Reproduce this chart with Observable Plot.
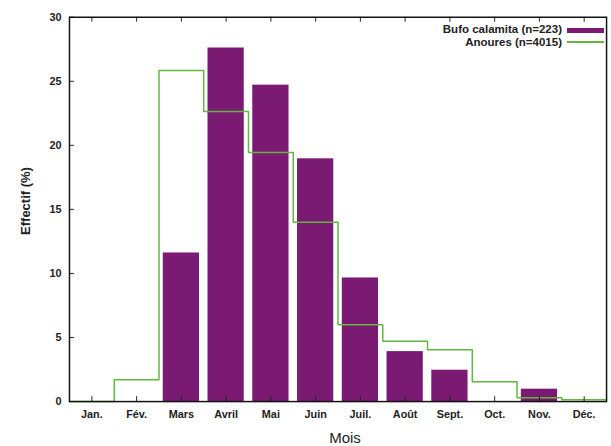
<!DOCTYPE html>
<html><head><meta charset="utf-8">
<script src="https://cdn.jsdelivr.net/npm/d3@7"></script>
<script src="https://cdn.jsdelivr.net/npm/@observablehq/plot@0.6"></script>
<style>
body{margin:0;width:611px;height:446px;overflow:hidden;background:#fff;font-family:"Liberation Sans",Arial,sans-serif;}
#wrap{position:relative;width:611px;height:446px;overflow:hidden;}
#wrap svg{position:absolute;left:0;top:0;}
#wrap svg text{font-weight:bold;}
.lab{position:absolute;color:#222;white-space:nowrap;}
#ylab{left:25px;top:201px;transform:translate(-50%,-50%) rotate(-90deg);font-size:13px;font-weight:bold;}
#xlab{left:345px;top:437px;transform:translate(-50%,-50%);font-size:15px;}
.leg{position:absolute;right:49px;font-size:11.5px;font-weight:bold;text-align:right;color:#222;line-height:11px;}
.sw{position:absolute;left:567px;width:37px;}
</style></head><body><div id="wrap">
<div class="lab" id="ylab">Effectif (%)</div>
<div class="lab" id="xlab">Mois</div>
<div class="leg" style="top:24px">Bufo calamita (n=223)</div>
<div class="leg" style="top:37px">Anoures (n=4015)</div>
<div class="sw" style="top:28px;height:5px;background:#7a1a73"></div>
<div class="sw" style="top:41px;height:1.5px;background:#62b83c"></div>
</div>
<script>
const months = ["Jan.","Fév.","Mars","Avril","Mai","Juin","Juil.","Août","Sept.","Oct.","Nov.","Déc."];
const bufo = [0,0,11.6,27.6,24.7,18.95,9.65,3.9,2.45,0,0.97,0];
const anoures = [0,1.7,25.85,22.65,19.45,14.0,6.0,4.7,4.05,1.55,0.3,0.15];
const yTicks = [0,5,10,15,20,25,30];

const idx = months.map((m,i)=>i+1);
const barData = idx.map((m,i)=>({m, v: bufo[i]})).filter(d=>d.v>0);
const stepData = [...idx.map((m,i)=>({x:m-0.5, v:anoures[i]})), {x:12.5, v:anoures[11]}];

const chart = Plot.plot({
  width: 620, height: 446,
  marginLeft: 70, marginRight: 5, marginTop: 17, marginBottom: 39,
  x: {domain:[0.5,12.5]},
  y: {domain:[0,30]},
  style: {fontFamily:'"Liberation Sans",Arial,sans-serif', fontSize:"11px", background:"transparent", color:"#222"},
  marks: [
    Plot.rectY(barData, {x1: d=>d.m-0.405, x2: d=>d.m+0.405, y: "v", fill: "#7a1a73"}),
    Plot.line(stepData, {x:"x", y:"v", curve:"step-after", stroke:"#62b83c", strokeWidth:1.5}),
    Plot.ruleX(idx, {x: d=>d, y1: 0, y2: 0.38, stroke:"#222"}),
    Plot.ruleX(idx, {x: d=>d, y1: 29.62, y2: 30, stroke:"#222"}),
    Plot.ruleY(yTicks, {y: d=>d, x1: 0.5, x2: 0.61, stroke:"#222"}),
    Plot.axisX(idx, {tickSize:0, tickPadding:9, tickFormat: d=>months[d-1], label:null}),
    Plot.axisY(yTicks, {tickSize:0, tickPadding:8, label:null}),
    Plot.frame({stroke:"#111", strokeWidth:1.5})
  ]
});
document.getElementById("wrap").prepend(chart);
</script>
</body></html>
